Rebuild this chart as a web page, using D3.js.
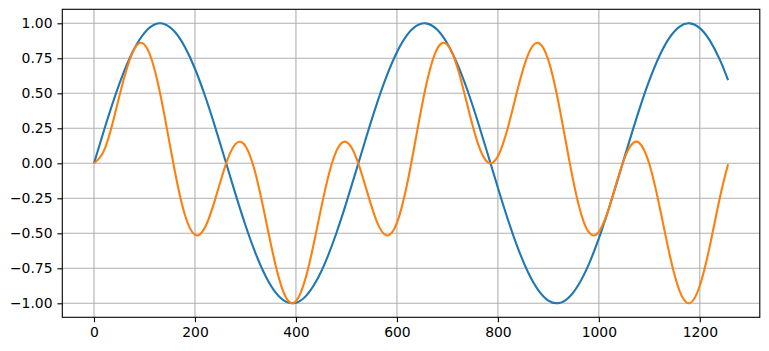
<!DOCTYPE html>
<html>
<head>
<meta charset="utf-8">
<script src="https://cdn.jsdelivr.net/npm/d3@7"></script>
<style>
  body { margin: 0; background: #fff; }
  svg text { font-family: "DejaVu Sans", sans-serif; font-size: 13.9px; fill: #000; }
</style>
</head>
<body>
<div id="chart"></div>
<script>
// sample index of every reading (step 20, last point at 1256)
const sampleX = [
  0, 20, 40, 60, 80, 100, 120, 140, 160, 180, 200, 220, 240, 260, 280, 300,
  320, 340, 360, 380, 400, 420, 440, 460, 480, 500, 520, 540, 560, 580, 600,
  620, 640, 660, 680, 700, 720, 740, 760, 780, 800, 820, 840, 860, 880, 900,
  920, 940, 960, 980, 1000, 1020, 1040, 1060, 1080, 1100, 1120, 1140, 1160,
  1180, 1200, 1220, 1240, 1256
];

// blue series
const blueValues = [
  0, 0.2377, 0.4618, 0.6594, 0.8192, 0.932, 0.9915, 0.994, 0.9396, 0.8309,
  0.6755, 0.4808, 0.2586, 0.0216, -0.2167, -0.4425, -0.6431, -0.8066, -0.924,
  -0.9884, -0.9962, -0.9469, -0.8432, -0.6912, -0.4996, -0.2794, -0.0432,
  0.1955, 0.4231, 0.6264, 0.7937, 0.9156, 0.9849, 0.9978, 0.9535, 0.8546,
  0.7066, 0.5182, 0.3001, 0.0648, -0.1743, -0.4034, -0.6093, -0.7803, -0.9064,
  -0.981, -0.999, -0.9598, -0.8654, -0.7217, -0.5366, -0.3207, -0.0863, 0.153,
  0.3836, 0.5921, 0.7667, 0.8973, 0.9766, 0.9997, 0.9657, 0.8762, 0.7365, 0.594
];

// orange series
const orangeValues = [
  0, 0.0926, 0.3313, 0.6146, 0.8189, 0.8475, 0.6698, 0.333, -0.0549, -0.3677,
  -0.5112, -0.4575, -0.2576, -0.0191, 0.1368, 0.1236, -0.0749, -0.3985,
  -0.7334, -0.9567, -0.9856, -0.8092, -0.4932, -0.1541, 0.0871, 0.152, 0.0358,
  -0.1918, -0.4143, -0.5155, -0.4259, -0.1516, 0.228, 0.5908, 0.8193, 0.8466,
  0.6824, 0.4085, 0.146, 0.007, 0.0502, 0.2574, 0.5408, 0.7779, 0.8601, 0.7367,
  0.4342, 0.0476, -0.2971, -0.4922, -0.4899, -0.3206, -0.0802, 0.1088, 0.1463,
  -0.0052, -0.3048, -0.6492, -0.9133, -0.999, -0.8745, -0.5864, -0.2406, -0.0075
];

const xTicks = [0, 200, 400, 600, 800, 1000, 1200];
const yTicks = [-1, -0.75, -0.5, -0.25, 0, 0.25, 0.5, 0.75, 1];

const width = 769, height = 351;
const margin = { top: 9.3, right: 9.2, bottom: 33.7, left: 62.3 };
const innerW = width - margin.left - margin.right;
const innerH = height - margin.top - margin.bottom;

const svg = d3.select("#chart").append("svg")
  .attr("width", width)
  .attr("height", height);

const g = svg.append("g")
  .attr("transform", `translate(${margin.left},${margin.top})`);

// matplotlib style 5% margins
const xMin = 0, xMax = 1256;
const xPad = (xMax - xMin) * 0.05;
const x = d3.scaleLinear().domain([xMin - xPad, xMax + xPad]).range([0, innerW]);
const y = d3.scaleLinear().domain([-1.1, 1.1]).range([innerH, 0]);

// grid
g.append("g").selectAll("line")
  .data(xTicks)
  .join("line")
  .attr("x1", (d) => x(d)).attr("x2", (d) => x(d))
  .attr("y1", 0).attr("y2", innerH)
  .attr("stroke", "#b0b0b0").attr("stroke-width", 1.1);

g.append("g").selectAll("line")
  .data(yTicks)
  .join("line")
  .attr("x1", 0).attr("x2", innerW)
  .attr("y1", (d) => y(d)).attr("y2", (d) => y(d))
  .attr("stroke", "#b0b0b0").attr("stroke-width", 1.1);

const fmtY = (d) => d3.format(".2f")(d).replace("-", "\u2212");

const xAxis = g.append("g")
  .attr("transform", `translate(0,${innerH})`)
  .call(d3.axisBottom(x).tickValues(xTicks).tickSize(4.9).tickPadding(4.9).tickFormat(d3.format("d")));

const yAxis = g.append("g")
  .call(d3.axisLeft(y).tickValues(yTicks).tickSize(4.9).tickPadding(4.9).tickFormat(fmtY));

[xAxis, yAxis].forEach((a) => {
  a.select(".domain").remove();
  a.selectAll(".tick line").attr("stroke", "#000").attr("stroke-width", 1.1);
  a.selectAll("text").attr("font-family", null).attr("font-size", null);
});

const line = d3.line()
  .x((d) => x(d[0]))
  .y((d) => y(d[1]))
  .curve(d3.curveNatural);

g.append("path")
  .datum(d3.zip(sampleX, blueValues))
  .attr("fill", "none")
  .attr("stroke", "#1f77b4")
  .attr("stroke-width", 2.1)
  .attr("stroke-linejoin", "round")
  .attr("d", line);

g.append("path")
  .datum(d3.zip(sampleX, orangeValues))
  .attr("fill", "none")
  .attr("stroke", "#ff7f0e")
  .attr("stroke-width", 2.1)
  .attr("stroke-linejoin", "round")
  .attr("d", line);

// axes frame
g.append("rect")
  .attr("width", innerW)
  .attr("height", innerH)
  .attr("fill", "none")
  .attr("stroke", "#000")
  .attr("stroke-width", 1.1);
</script>
</body>
</html>
